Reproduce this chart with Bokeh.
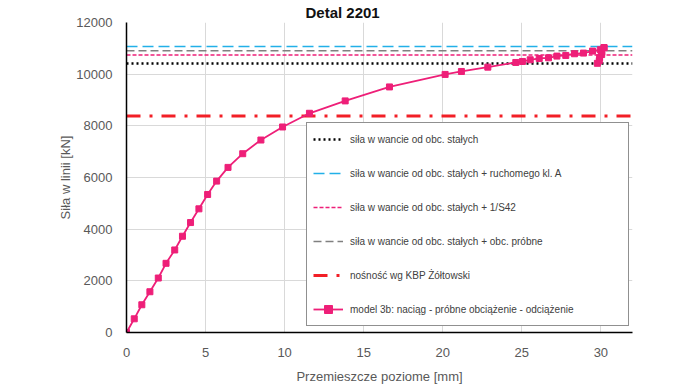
from bokeh.plotting import figure
from bokeh.models import Range1d, Legend, LegendItem, FixedTicker, Title
from bokeh.embed import file_html
from bokeh.resources import INLINE

# ---- data ----
x_model = [0, 0.49, 0.97, 1.48, 2.01, 2.5, 3.05, 3.54, 4.05, 4.58, 5.13, 5.7, 6.42,
           7.35, 8.5, 9.87, 11.57, 13.83, 16.63, 20.15, 21.18, 22.85, 24.62, 25.04,
           25.53, 26.1, 26.69, 27.22, 27.78, 28.33, 28.9, 29.47, 29.96,
           30.2, 30.05, 29.9, 29.78, 29.92, 30.06, 30.2]
y_model = [0, 530, 1074, 1578, 2109, 2678, 3195, 3726, 4256, 4787, 5343, 5860, 6391,
           6921, 7451, 7956, 8486, 8965, 9506, 9990, 10104, 10272, 10453, 10492,
           10557, 10608, 10634, 10699, 10725, 10790, 10816, 10893, 10945,
           11030, 10760, 10520, 10420, 10640, 10850, 11020]

level_staly = 10415
level_ruchomy = 11070
level_s42 = 10740
level_probne = 10905
level_nosnosc = 8385

title_text = "Detal 2201"
labels = [
    "siła w wancie od obc. stałych",
    "siła w wancie od obc. stałych + ruchomego kl. A",
    "siła w wancie od obc. stałych + 1/S42",
    "siła w wancie od obc. stałych + obc. próbne",
    "nośność wg KBP Żółtowski",
    "model 3b: naciąg - próbne obciążenie - odciążenie",
]

x_ticks = [0, 5, 10, 15, 20, 25, 30]
y_ticks = [0, 2000, 4000, 6000, 8000, 10000, 12000]
X_MIN, X_MAX = 0, 32
Y_MIN, Y_MAX = 0, 12000

FONT = "Liberation Sans"
PINK = "#EE1F78"

p = figure(width=690, height=389, output_backend="svg", toolbar_location=None,
           x_range=Range1d(X_MIN, X_MAX), y_range=Range1d(Y_MIN, Y_MAX),
           min_border_left=126, min_border_right=58, min_border_bottom=57,
           min_border_top=0)
p.outline_line_color = None
p.background_fill_color = "white"
p.border_fill_color = "white"

p.title = Title(text=title_text, align="left", text_font=FONT,
                text_font_size="15px", text_font_style="bold",
                text_color="#111111", standoff=3, offset=179)

for ax in (p.xaxis[0], p.yaxis[0]):
    ax.axis_line_color = "black"
    ax.axis_line_width = 1.5
    ax.major_tick_line_color = None
    ax.minor_tick_line_color = None
    ax.major_label_text_font = FONT
    ax.major_label_text_font_size = "13px"
    ax.major_label_text_color = "#595959"
    ax.axis_label_text_font = FONT
    ax.axis_label_text_font_size = "13px"
    ax.axis_label_text_font_style = "normal"
    ax.axis_label_text_color = "#595959"

p.xaxis.ticker = FixedTicker(ticks=x_ticks)
p.yaxis.ticker = FixedTicker(ticks=y_ticks)
p.xaxis.axis_label = "Przemieszcze poziome [mm]"
p.yaxis.axis_label = "Siła w linii [kN]"
p.xaxis.major_label_standoff = 9
p.xaxis.axis_label_standoff = 9
p.yaxis.major_label_standoff = 8
p.yaxis.axis_label_standoff = 0

p.grid.grid_line_color = "#d9d9d9"
p.grid.grid_line_width = 1

xs = [X_MIN, X_MAX]
r1 = p.line(xs, [level_staly] * 2, line_color="black", line_width=2.5, line_dash="2 3")
r2 = p.line(xs, [level_ruchomy] * 2, line_color="#22B0E8", line_width=1.5, line_dash="11 5")
r3 = p.line(xs, [level_s42] * 2, line_color=PINK, line_width=1.5, line_dash="4 2")
r4 = p.line(xs, [level_probne] * 2, line_color="#808080", line_width=1.5, line_dash="8 4")
r5 = p.line(xs, [level_nosnosc] * 2, line_color="#F21F26", line_width=3, line_dash="14 9 3 9")
r6 = p.line(x_model, y_model, line_color=PINK, line_width=1.8)
r6m = p.scatter(x_model, y_model, marker="square", size=6, fill_color=PINK, line_color=PINK)

legend = Legend(items=[
    LegendItem(label=labels[0], renderers=[r1]),
    LegendItem(label=labels[1], renderers=[r2]),
    LegendItem(label=labels[2], renderers=[r3]),
    LegendItem(label=labels[3], renderers=[r4]),
    LegendItem(label=labels[4], renderers=[r5]),
    LegendItem(label=labels[5], renderers=[r6, r6m]),
], location=(180, 6))
legend.margin = 0
legend.padding = 6
legend.spacing = 14
legend.glyph_width = 30
legend.glyph_height = 20
legend.label_height = 20
legend.label_standoff = 7
legend.label_width = 272
legend.label_text_font = FONT
legend.label_text_font_size = "10px"
legend.label_text_color = "#404040"
legend.border_line_color = "#222222"
legend.border_line_width = 1.2
legend.background_fill_color = "white"
legend.background_fill_alpha = 1.0
p.add_layout(legend, "center")

open("out.html", "w").write(file_html(p, INLINE))
